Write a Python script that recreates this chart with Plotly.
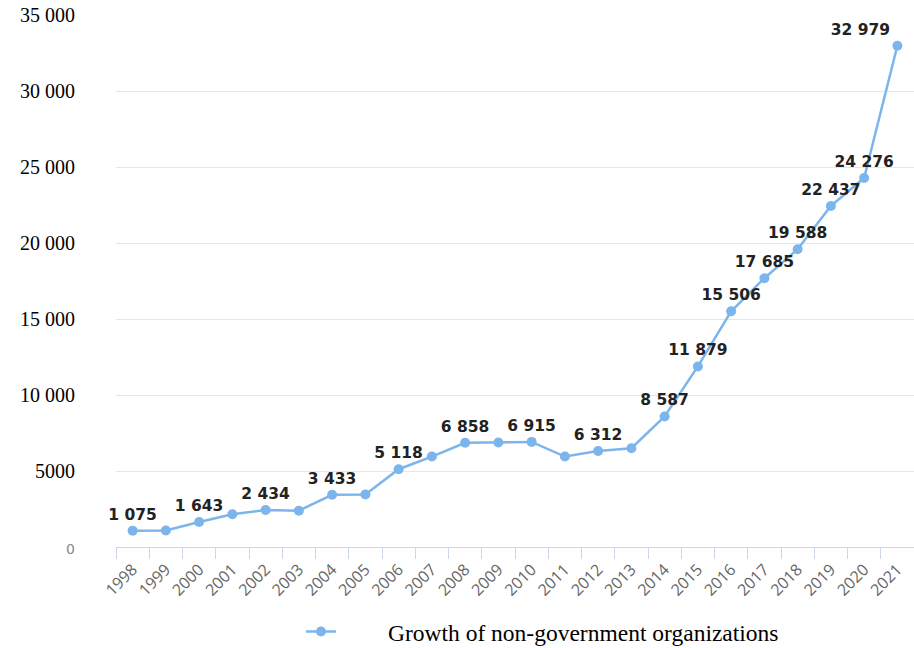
import plotly.graph_objects as go

years = [str(y) for y in range(1998, 2022)]
values = [1075, 1090, 1643, 2150, 2434, 2390, 3433, 3450, 5118, 5950,
          6858, 6880, 6915, 5950, 6312, 6500, 8587, 11879, 15506, 17685,
          19588, 22437, 24276, 32979]
labelled_years = ["1998", "2000", "2002", "2004", "2006", "2008", "2010", "2012",
                  "2014", "2015", "2016", "2017", "2018", "2019", "2020", "2021"]
series_name = "Growth of non-government organizations"
y_tickvals = [0, 5000, 10000, 15000, 20000, 25000, 30000, 35000]
y_ticktext = ["<span style='color:#888;font-size:14px;font-family:DejaVu Sans'>0</span>",
              "5000", "10 000", "15 000", "20 000", "25 000", "30 000", "35 000"]


def fmt(v):
    return f"{v:,}".replace(",", " ")


labels = [fmt(v) if y in labelled_years else "" for y, v in zip(years, values)]
positions = ["top center"] * (len(years) - 1) + ["top left"]

fig = go.Figure()
fig.add_trace(go.Scatter(
    x=years, y=values, mode="lines+markers+text",
    name="\u00a0" * 8 + series_name,
    line=dict(color="#7cb5ec", width=2.5),
    marker=dict(color="#7cb5ec", size=10),
    text=labels, textposition=positions,
    textfont=dict(family="DejaVu Sans", size=15.5, color="#222222", weight="bold"),
    cliponaxis=False,
))

fig.update_layout(
    width=914, height=648,
    margin=dict(l=116, r=0, t=15, b=101),
    paper_bgcolor="white", plot_bgcolor="white",
    showlegend=True,
    legend=dict(
        orientation="h", xref="container", yref="container",
        x=0.3293, xanchor="left", y=0.025, yanchor="middle",
        font=dict(family="Liberation Serif", size=23.5, color="#000000"),
    ),
    xaxis=dict(
        type="category", range=[-0.5, 23.5],
        tickson="boundaries", ticks="outside", ticklen=11,
        tickcolor="#ccd6eb", showline=True, linecolor="#ccd6eb", linewidth=1,
        showgrid=False, tickangle=-45, ticklabelstandoff=6,
        tickfont=dict(family="Open Sans", size=16, color="#666666"),
    ),
    yaxis=dict(
        range=[0, 35000], tickvals=y_tickvals, ticktext=y_ticktext,
        showgrid=True, gridcolor="#e6e6e6", gridwidth=1,
        zeroline=False, showline=False, ticks="",
        ticklabelstandoff=40,
        tickfont=dict(family="Liberation Serif", size=20, color="#000000"),
    ),
)

fig.write_html("out.html")
